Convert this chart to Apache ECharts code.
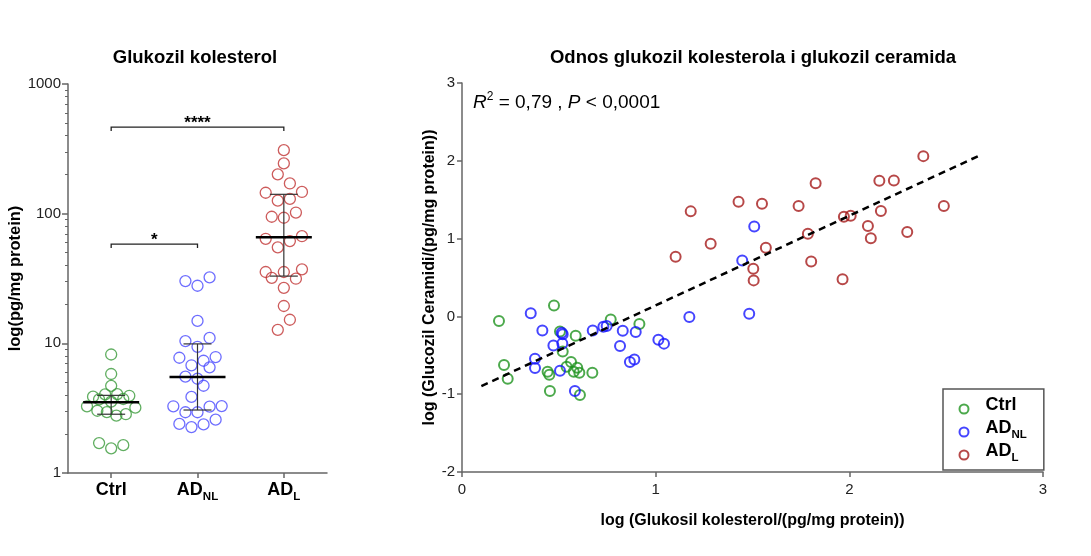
<!DOCTYPE html>
<html><head><meta charset="utf-8">
<script src="https://cdn.jsdelivr.net/npm/echarts@6/dist/echarts.min.js"></script>
<style>html,body{margin:0;padding:0;background:#fff}#c{width:1091px;height:556px}</style>
</head><body><div id="c"></div>
<script>
// ---------- Left panel: Glukozil kolesterol (pg/mg protein) ----------
const groups = ['Ctrl', 'AD_NL', 'AD_L'];
const ctrlValues = [8.2, 5.8, 4.7, 3.88, 4.04, 4.06, 3.94, 3.70, 3.55, 3.72, 3.27, 3.19, 3.02, 2.95, 2.77, 2.84, 1.70, 1.55, 1.64];
const ctrlSwarm  = [0, 0, 0, -0.21, -0.07, 0.07, 0.21, -0.14, 0, 0.14, -0.28, 0.28, -0.16, -0.05, 0.06, 0.17, -0.14, 0, 0.14];
const adnlValues = [30.2, 27.8, 32.3, 14.9, 10.4, 11.0, 9.4, 7.74, 7.84, 7.34, 6.77, 6.53, 5.53, 5.33, 4.71, 3.86, 3.27, 3.25, 3.28, 2.94, 2.94, 2.39, 2.26, 2.37, 2.58];
const adnlSwarm  = [-0.14, 0, 0.14, 0, -0.14, 0.14, 0, -0.21, 0.21, 0.07, -0.07, 0.14, -0.14, 0, 0.07, -0.07, -0.28, 0.14, 0.28, -0.14, 0, -0.21, -0.07, 0.07, 0.21];
const adlValues  = [309, 244, 201, 171, 145, 147, 126, 130, 94.7, 93, 102, 64, 67, 61.5, 55, 35.5, 35.5, 37.2, 32, 31.5, 26.8, 19.4, 15.2, 12.7];
const adlSwarm   = [0, 0, -0.07, 0.07, -0.21, 0.21, -0.07, 0.07, -0.14, 0, 0.14, -0.21, 0.21, 0.07, -0.07, -0.21, 0, 0.21, -0.14, 0.14, 0, 0, 0.07, -0.07];
const medians = [3.51, 5.5, 65.7];
const q1Values = [2.84, 3.06, 33];
const q3Values = [3.97, 9.9, 141];
const leftMajorTicks = [1, 10, 100, 1000];
const leftMinorTicks = [2,3,4,5,6,7,8,9,20,30,40,50,60,70,80,90,200,300,400,500,600,700,800,900];
const sigFrom = [0, 0];
const sigTo = [2, 1];
const sigLevel = [465, 58.3];
const sigText = ['****', '*'];

// ---------- Right panel: log GlcChol vs log GlcCer ----------
const ctrlX = [0.191,0.475,0.506,0.587,0.768,0.916,0.520,0.217,0.236,0.563,0.540,0.595,0.442,0.451,0.577,0.606,0.673,0.454,0.609];
const ctrlY = [-0.06,0.141,-0.193,-0.248,-0.039,-0.099,-0.45,-0.626,-0.80,-0.587,-0.647,-0.66,-0.71,-0.75,-0.71,-0.724,-0.724,-0.96,-1.01];
const adnlX = [0.355,0.415,0.515,0.675,0.730,0.747,0.830,0.897,0.472,0.518,0.816,1.014,1.043,0.377,0.377,0.506,0.867,0.890,1.174,0.583,1.447,1.509,1.483,0.52];
const adnlY = [0.039,-0.18,-0.21,-0.18,-0.133,-0.124,-0.184,-0.20,-0.373,-0.347,-0.381,-0.30,-0.35,-0.544,-0.664,-0.698,-0.587,-0.553,-0.009,-0.96,0.72,1.157,0.034,-0.23];
const adlX = [2.382,1.826,2.155,2.230,1.428,1.549,1.738,1.181,2.488,2.163,1.972,2.007,2.096,2.111,2.299,1.786,1.284,1.569,1.103,1.803,1.504,1.506,1.965];
const adlY = [2.06,1.71,1.744,1.748,1.474,1.449,1.418,1.35,1.418,1.354,1.281,1.294,1.161,1.006,1.084,1.063,0.934,0.883,0.767,0.707,0.613,0.463,0.476];
const fitX = [0.10, 2.665];
const fitY = [-0.896, 2.06];
const rightXTicks = [0, 1, 2, 3];
const rightYTicks = [-2, -1, 0, 1, 2, 3];

const FONT = '"Liberation Sans", Arial, sans-serif';
const leftColors = ['#3a9a3a', '#4a4aff', '#c03333'];
const rightColors = ['#1f931f', '#1717ff', '#a51a1a'];
const axisCol = '#666';

function richName(n) {
  if (n === 'AD_NL') return '{b|AD}{s|NL}';
  if (n === 'AD_L') return '{b|AD}{s|L}';
  return '{b|' + n + '}';
}
function richStyles(big, small, padLeft) {
  return {
    b: {fontSize: big, fontWeight: 'bold', color: '#000', fontFamily: FONT, verticalAlign: 'bottom', lineHeight: big, padding: [0, 0, 4, padLeft || 0]},
    s: {fontSize: small, fontWeight: 'bold', color: '#000', fontFamily: FONT, verticalAlign: 'bottom', lineHeight: small}
  };
}

const chart = echarts.init(document.getElementById('c'), null, {renderer: 'canvas'});

function swarmSeries(name, vals, swarm, idx) {
  return {
    name: name, type: 'scatter', xAxisIndex: 0, yAxisIndex: 0,
    symbol: 'circle', symbolSize: 11,
    itemStyle: {color: 'rgba(255,255,255,0)', borderColor: leftColors[idx], borderWidth: 1.3},
    emphasis: {disabled: true},
    data: vals.map((v, i) => [idx + swarm[i], v]), z: 2
  };
}
function corrSeries(name, xs, ys, idx) {
  return {
    name: name, type: 'scatter', xAxisIndex: 1, yAxisIndex: 2,
    symbol: 'circle', symbolSize: 10,
    itemStyle: {color: 'rgba(255,255,255,0)', borderColor: rightColors[idx], borderWidth: 2},
    emphasis: {disabled: true},
    data: xs.map((x, i) => [x, ys[i]]), z: 2
  };
}

const option = {
  animation: false,
  backgroundColor: '#fff',
  title: [
    {text: 'Glukozil kolesterol', left: 190, top: 43, textAlign: 'center',
     textStyle: {fontSize: 18.5, fontWeight: 'bold', color: '#000', fontFamily: FONT}},
    {text: 'Odnos glukozil kolesterola i glukozil ceramida', left: 748, top: 43, textAlign: 'center',
     textStyle: {fontSize: 18.5, fontWeight: 'bold', color: '#000', fontFamily: FONT}}
  ],
  grid: [
    {left: 68, top: 84, width: 259, height: 389},
    {left: 462, top: 83, width: 581, height: 389}
  ],
  xAxis: [
    {gridIndex: 0, type: 'value', min: -0.5, max: 2.5,
     axisLine: {show: true, onZero: false, lineStyle: {color: axisCol, width: 1.5}},
     axisTick: {show: true, customValues: [0, 1, 2], length: 5, lineStyle: {color: axisCol, width: 1.5}},
     axisLabel: {customValues: [0, 1, 2], margin: 12, formatter: v => richName(groups[Math.round(v)]), rich: richStyles(18, 11.5)},
     splitLine: {show: false}},
    {gridIndex: 1, type: 'value', min: 0, max: 3, interval: 1,
     axisLine: {show: true, onZero: false, lineStyle: {color: axisCol, width: 1.5}},
     axisTick: {show: true, customValues: rightXTicks, length: 5, lineStyle: {color: axisCol, width: 1.5}},
     axisLabel: {customValues: rightXTicks, fontSize: 15, color: '#222', fontFamily: FONT, margin: 10},
     splitLine: {show: false},
     name: 'log (Glukosil kolesterol/(pg/mg protein))', nameLocation: 'middle', nameGap: 41,
     nameTextStyle: {fontSize: 16, fontWeight: 'bold', color: '#000', fontFamily: FONT}}
  ],
  yAxis: [
    {gridIndex: 0, type: 'log', logBase: 10, min: 1, max: 1000,
     axisLine: {show: true, onZero: false, lineStyle: {color: axisCol, width: 1.5}},
     axisTick: {show: true, customValues: leftMajorTicks, length: 6, lineStyle: {color: axisCol, width: 1.5}},
     axisLabel: {customValues: leftMajorTicks, fontSize: 15, color: '#222', fontFamily: FONT, margin: 7, formatter: v => String(v)},
     splitLine: {show: false},
     name: 'log(pg/mg protein)', nameLocation: 'middle', nameGap: 42,
     nameTextStyle: {fontSize: 16.5, fontWeight: 'bold', color: '#000', fontFamily: FONT}},
    {gridIndex: 0, type: 'log', logBase: 10, min: 1, max: 1000, position: 'left',
     axisLine: {show: false, onZero: false},
     axisTick: {show: true, customValues: leftMinorTicks, length: 3, lineStyle: {color: axisCol, width: 1}},
     axisLabel: {show: false}, splitLine: {show: false}},
    {gridIndex: 1, type: 'value', min: -2, max: 3, interval: 1,
     axisLine: {show: true, onZero: false, lineStyle: {color: axisCol, width: 1.5}},
     axisTick: {show: true, customValues: rightYTicks, length: 5, lineStyle: {color: axisCol, width: 1.5}},
     axisLabel: {customValues: rightYTicks, fontSize: 15, color: '#222', fontFamily: FONT, margin: 7},
     splitLine: {show: false},
     name: 'log (Glucozil Ceramidi/(pg/mg protein))', nameLocation: 'middle', nameGap: 24, nameMoveOverlap: false,
     nameTextStyle: {fontSize: 16, fontWeight: 'bold', color: '#000', fontFamily: FONT}}
  ],
  legend: {
    data: ['Ctrl', 'AD_NL', 'AD_L'], orient: 'vertical', left: 943, top: 389,
    backgroundColor: '#fff', borderColor: '#555', borderWidth: 1.5,
    padding: [7, 17, 6, 15.5], itemGap: 1, itemWidth: 9, itemHeight: 9, icon: 'circle',
    formatter: n => richName(n), textStyle: {rich: richStyles(18, 11.5, 12)}, selectedMode: false
  },
  graphic: [
    {type: 'text', left: 473, top: 91, z: 10,
     style: {text: '{i|R}{sup|2}{n| = 0,79 , }{i|P}{n| < 0,0001}', rich: {
       i: {fontSize: 19, fontStyle: 'italic', fontFamily: FONT, fill: '#000', verticalAlign: 'bottom', lineHeight: 21},
       n: {fontSize: 19, fontFamily: FONT, fill: '#000', verticalAlign: 'bottom', lineHeight: 21},
       sup: {fontSize: 12, fontFamily: FONT, fill: '#000', verticalAlign: 'top', lineHeight: 12}
     }}}
  ],
  series: [
    swarmSeries('Ctrl (L)', ctrlValues, ctrlSwarm, 0),
    swarmSeries('AD_NL (L)', adnlValues, adnlSwarm, 1),
    swarmSeries('AD_L (L)', adlValues, adlSwarm, 2),
    {type: 'custom', xAxisIndex: 0, yAxisIndex: 0, z: 5, silent: true,
     data: groups.map((g, i) => [i, medians[i], q1Values[i], q3Values[i]]),
     renderItem: function (params, api) {
       const i = api.value(0);
       const m = api.coord([i, api.value(1)]);
       const lo = api.coord([i, api.value(2)]);
       const hi = api.coord([i, api.value(3)]);
       const hw = 28, cw = 14;
       const thin = {stroke: '#333', lineWidth: 1.2};
       return {type: 'group', children: [
         {type: 'line', shape: {x1: lo[0], y1: lo[1], x2: hi[0], y2: hi[1]}, style: thin},
         {type: 'line', shape: {x1: lo[0] - cw, y1: lo[1], x2: lo[0] + cw, y2: lo[1]}, style: thin},
         {type: 'line', shape: {x1: hi[0] - cw, y1: hi[1], x2: hi[0] + cw, y2: hi[1]}, style: thin},
         {type: 'line', shape: {x1: m[0] - hw, y1: m[1], x2: m[0] + hw, y2: m[1]}, style: {stroke: '#000', lineWidth: 2.6}}
       ]};
     }},
    {type: 'custom', xAxisIndex: 0, yAxisIndex: 0, z: 5, silent: true,
     data: sigFrom.map((f, i) => [f, sigTo[i], sigLevel[i], i]),
     renderItem: function (params, api) {
       const a = api.coord([api.value(0), api.value(2)]);
       const b = api.coord([api.value(1), api.value(2)]);
       const t = sigText[api.value(3)];
       return {type: 'group', children: [
         {type: 'polyline', shape: {points: [[a[0], a[1] + 4], [a[0], a[1]], [b[0], b[1]], [b[0], b[1] + 4]]},
          style: {stroke: '#222', lineWidth: 1.3, fill: null}},
         {type: 'text', x: (a[0] + b[0]) / 2, y: a[1] + 5,
          style: {text: t, fontSize: 17, fontWeight: 'bold', fontFamily: FONT, fill: '#000', align: 'center', verticalAlign: 'bottom'}}
       ]};
     }},
    corrSeries('Ctrl', ctrlX, ctrlY, 0),
    corrSeries('AD_NL', adnlX, adnlY, 1),
    corrSeries('AD_L', adlX, adlY, 2),
    {type: 'line', xAxisIndex: 1, yAxisIndex: 2, symbol: 'none', z: 3, silent: true,
     lineStyle: {color: '#000', width: 2.5, type: [7, 5]},
     data: fitX.map((x, i) => [x, fitY[i]])}
  ]
};
chart.setOption(option);
</script>
</body></html>
